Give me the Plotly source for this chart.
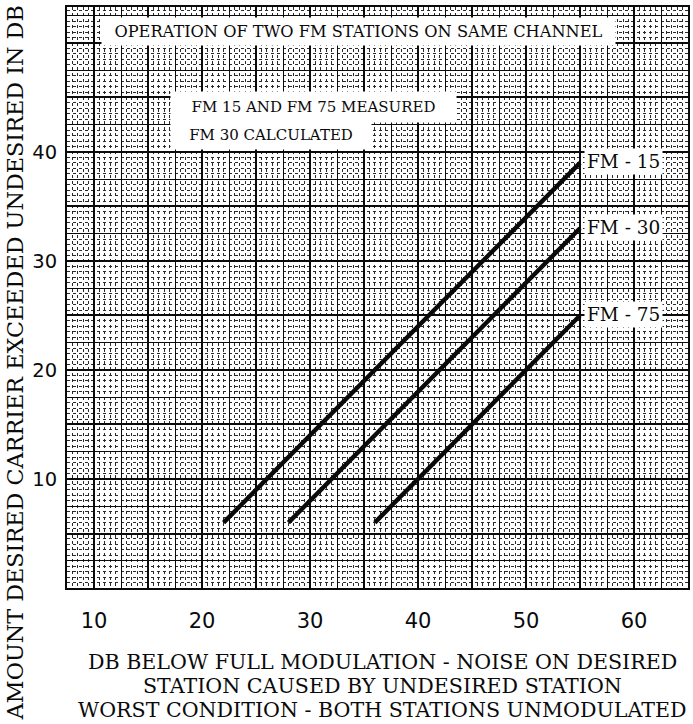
import plotly.graph_objects as go

# Co-channel FM interference: protection ratio vs. noise level for three deviations
stations = ["FM - 15", "FM - 30", "FM - 75"]
x_start = [22, 28, 36]
x_end = [55, 55, 55]
y_start = [6, 6, 6]
y_end = [39, 33, 25]

x_ticks = [10, 20, 30, 40, 50, 60]
x_tick_text = ["10", "20", "30", "40", "50", "60"]
y_ticks = [10, 20, 30, 40]
y_tick_text = ["10", "20", "30", "40"]

X_RANGE = [7.5, 65]
Y_RANGE = [0, 53.3]

title_text = "OPERATION OF TWO FM STATIONS ON SAME CHANNEL"
note_lines = ["FM 15 AND FM 75 MEASURED", "FM 30 CALCULATED"]
x_title_lines = [
    "DB BELOW FULL MODULATION - NOISE ON DESIRED",
    "STATION CAUSED BY UNDESIRED STATION",
    "WORST CONDITION - BOTH STATIONS UNMODULATED",
]
y_title = "AMOUNT DESIRED CARRIER EXCEEDED UNDESIRED IN DB"

SERIF = "DejaVu Serif"
SANS = "DejaVu Sans"
INK = "#0a0a0a"

fig = go.Figure()

# empty traces so every grid layer gets its own subplot drawn
for xa, ya in (("x", "y"), ("x2", "y2")):
    fig.add_trace(go.Scatter(x=[None], y=[None], xaxis=xa, yaxis=ya,
                             showlegend=False, hoverinfo="skip"))

for name, xs, xe, ys, ye in zip(stations, x_start, x_end, y_start, y_end):
    fig.add_trace(go.Scatter(
        x=[xs, xe], y=[ys, ye], mode="lines", name=name,
        line=dict(color=INK, width=4.4), showlegend=False,
        xaxis="x3", yaxis="y3", hoverinfo="skip",
    ))
    fig.add_annotation(
        x=xe, y=ye, xref="x3", yref="y3", text=name, showarrow=False,
        xanchor="left", yanchor="middle", xshift=4, yshift=1,
        font=dict(family=SERIF, size=18.5, color=INK),
        bgcolor="white", borderpad=2,
    )

# graph-paper grid: fine 0.5 lines, medium 2.5 lines, heavy 5 lines
fine = dict(dtick=0.5, tick0=0, showgrid=True, gridcolor="#2a2a2a",
            gridwidth=0.7, griddash="dot", ticks="")
base_x = dict(range=X_RANGE, tickmode="array", tickvals=x_ticks, ticktext=x_tick_text,
              showgrid=False, zeroline=False, ticks="", ticklabelstandoff=13,
              tickfont=dict(family=SANS, size=21, color=INK), minor=fine,
              showline=True, mirror=True, linecolor=INK, linewidth=2)
base_y = dict(range=Y_RANGE, tickmode="array", tickvals=y_ticks, ticktext=y_tick_text,
              showgrid=False, zeroline=False, ticks="", ticklabelstandoff=4,
              tickfont=dict(family=SANS, size=19.5, color=INK), minor=fine,
              showline=True, mirror=True, linecolor=INK, linewidth=2)

def overlay(axis_range, step, width, anchor):
    return dict(range=axis_range, tick0=0, dtick=step, showgrid=True, gridcolor=INK,
                gridwidth=width, showticklabels=False, ticks="", zeroline=False,
                showline=False, anchor=anchor)

fig.update_layout(
    width=693, height=724,
    margin=dict(l=67, r=3, t=7, b=136),
    paper_bgcolor="white", plot_bgcolor="white",
    xaxis=base_x, yaxis=base_y,
    xaxis2=dict(overlay(X_RANGE, 2.5, 1.0, "y2"), overlaying="x"),
    yaxis2=dict(overlay(Y_RANGE, 2.5, 1.0, "x2"), overlaying="y"),
    xaxis3=dict(overlay(X_RANGE, 5, 1.6, "y3"), overlaying="x"),
    yaxis3=dict(overlay(Y_RANGE, 5, 1.6, "x3"), overlaying="y"),
)

# caption boxes inside the grid
fig.add_annotation(
    x=0.470, y=0.957, xref="paper", yref="paper", text=title_text, showarrow=False,
    font=dict(family=SERIF, size=16.2, color=INK), bgcolor="white",
    width=513, height=27, borderpad=0, xanchor="center", yanchor="middle",
)
fig.add_annotation(
    x=0.1653, y=0.828, xref="paper", yref="paper", text=note_lines[0], showarrow=False,
    font=dict(family=SERIF, size=15, color=INK), bgcolor="white",
    width=285, height=30, borderpad=0, xanchor="left", yanchor="middle",
)
fig.add_annotation(
    x=0.1653, y=0.780, xref="paper", yref="paper", text=note_lines[1], showarrow=False,
    font=dict(family=SERIF, size=15, color=INK), bgcolor="white",
    width=200, height=29, borderpad=0, xanchor="left", yanchor="middle",
)

# axis titles
for i, line in enumerate(x_title_lines):
    fig.add_annotation(
        x=0.5, y=0, xref="paper", yref="paper", text=line, showarrow=False,
        xanchor="center", yanchor="middle", xshift=5, yshift=-74 - 24 * i,
        font=dict(family=SERIF, size=20.6, color=INK),
    )
fig.add_annotation(
    x=-0.0835, y=0.387, xref="paper", yref="paper", text=y_title, showarrow=False,
    textangle=-90, xanchor="center", yanchor="middle",
    font=dict(family=SERIF, size=22.3, color=INK),
)

fig.write_html("out.html")
